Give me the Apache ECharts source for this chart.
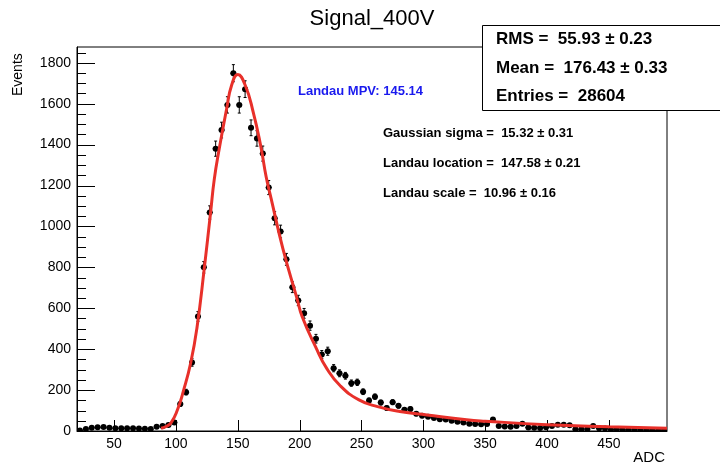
<!DOCTYPE html>
<html>
<head>
<meta charset="utf-8">
<script src="https://cdn.jsdelivr.net/npm/echarts@6/dist/echarts.min.js"></script>
<style>html,body{margin:0;padding:0;background:#fff;}#c{width:720px;height:469px;}</style>
</head>
<body>
<div id="c"></div>
<script>
// Histogram bin centers (ADC)
const binCenters = [22.4,27.2,31.9,36.7,41.5,46.2,51.0,55.8,60.5,65.3,
70.1,74.9,79.6,84.4,89.2,93.9,98.7,103.5,108.2,113.0,
117.8,122.5,127.3,132.1,136.9,141.6,146.4,151.2,155.9,160.7,
165.5,170.2,175.0,179.8,184.6,189.3,194.1,198.9,203.6,208.4,
213.2,217.9,222.7,227.5,232.2,237.0,241.8,246.6,251.3,256.1,
260.9,265.6,270.4,275.2,279.9,284.7,289.5,294.3,299.0,303.8,
308.6,313.3,318.1,322.9,327.6,332.4,337.2,341.9,346.7,351.5,
356.3,361.0,365.8,370.6,375.3,380.1,384.9,389.6,394.4,399.2,
404.0,408.7,413.5,418.3,423.0,427.8,432.6,437.3,442.1,446.9,
451.7,456.4,461.2,465.9,470.7,475.5,480.3,485.0,489.8,494.6];
// Events per bin
const counts = [3,10,16,18,19,16,13,13,13,13,
12,11,10,21,25,29,41,132,190,335,
560,800,1068,1380,1471,1594,1749,1594,1671,1482,
1430,1356,1190,1040,975,839,703,638,575,515,
451,374,390,307,282,270,234,238,192,149,
168,139,112,141,123,104,107,84,74,70,
64,57,56,50,45,42,35,34,33,34,
56,24,22,21,24,36,17,16,15,18,
25,30,30,28,9,8,10,24,13,12,
7,9,6,5,7,4,5,4,3,4];
const binHalfWidth = 2.385;
// Fit curve (Landau (x) Gauss)
const fitX = [88,92,96,101,106,112,117,123,128,131,135,141,145,150,156,162.5,168.5,173,177,186.5,198,202,213,222,233,248,263,281,303,335,350,400,450,497];
const fitY = [13,22,40,100,195,335,505,800,1068,1231,1380,1575,1690,1742,1690,1558,1394,1240,1135,890,645,560,410,305,220,152,119,95,78,55,48,31,21,14];
// Axis range and ticks
const xMin = 20, xMax = 497, yMin = 0, yMax = 1877;
const xTicks = [50,100,150,200,250,300,350,400,450];
const yTicks = [0,200,400,600,800,1000,1200,1400,1600,1800];
const yMinorTicks = [50,100,150,250,300,350,450,500,550,650,700,750,850,900,950,1050,1100,1150,1250,1300,1350,1450,1500,1550,1650,1700,1750,1850];

const chart = echarts.init(document.getElementById('c'), null, {renderer:'canvas'});
const FONT = '"Liberation Sans", Arial, Helvetica, sans-serif';

function renderPoint(params, api) {
  const x = api.value(0), y = api.value(1);
  const e = Math.sqrt(y);
  const c = api.coord([x, y]);
  const t = api.coord([x, y + e]);
  const b = api.coord([x, Math.max(y - e, 0)]);
  const l = api.coord([x - binHalfWidth, y]);
  const r = api.coord([x + binHalfWidth, y]);
  const st = {stroke:'#000', lineWidth:1};
  const cap = 1.5;
  return {type:'group', children:[
    {type:'line', shape:{x1:c[0],y1:t[1],x2:c[0],y2:b[1]}, style:st},
    {type:'line', shape:{x1:l[0],y1:c[1],x2:r[0],y2:c[1]}, style:st},
    {type:'line', shape:{x1:c[0]-cap,y1:t[1],x2:c[0]+cap,y2:t[1]}, style:st},
    {type:'line', shape:{x1:c[0]-cap,y1:b[1],x2:c[0]+cap,y2:b[1]}, style:st},
    {type:'circle', shape:{cx:c[0],cy:c[1],r:3}, style:{fill:'#000'}}
  ]};
}
// tick marks drawn through the axis scales: dim 2 = kind (0: x tick, 1: y major, 2: y minor)
function renderTick(params, api) {
  const kind = api.value(2);
  const p = api.coord([api.value(0), api.value(1)]);
  const st = {stroke:'#000', lineWidth:1};
  let shape;
  if (kind === 0) shape = {x1:Math.round(p[0])+0.5, y1:p[1], x2:Math.round(p[0])+0.5, y2:p[1]-11};
  else {
    const len = kind === 1 ? 18 : 9;
    shape = {x1:p[0], y1:Math.round(p[1])+0.5, x2:p[0]+len, y2:Math.round(p[1])+0.5};
  }
  return {type:'line', shape:shape, style:st};
}
const tickData = [].concat(
  xTicks.map(v => [v, yMin, 0]),
  yTicks.map(v => [xMin, v, 1]),
  yMinorTicks.map(v => [xMin, v, 2])
);

const plain = v => String(v);

const option = {
  animation:false,
  backgroundColor:'#fff',
  grid:{left:77, right:53, top:47, bottom:38, show:true, borderColor:'#000', borderWidth:1, outerBoundsMode:'none'},
  xAxis:{type:'value', min:xMin, max:xMax,
    axisLine:{show:true, onZero:false, lineStyle:{color:'#000', width:1}},
    axisTick:{show:false},
    axisLabel:{show:true, customValues:xTicks, formatter:plain, color:'#000', fontSize:14, fontFamily:FONT, margin:6},
    splitLine:{show:false}},
  yAxis:{type:'value', min:yMin, max:yMax,
    axisLine:{show:true, onZero:false, lineStyle:{color:'#000', width:1}},
    axisTick:{show:false},
    axisLabel:{show:true, customValues:yTicks, formatter:plain, color:'#000', fontSize:14, fontFamily:FONT, margin:6},
    splitLine:{show:false}},
  series:[
    {type:'custom', renderItem:renderTick, clip:false, z:1, silent:true,
      encode:{x:0, y:1}, data: tickData},
    {type:'custom', renderItem:renderPoint, clip:true, z:2,
      encode:{x:0, y:1},
      data: binCenters.map((x,i)=>[x, counts[i]])},
    {type:'line', z:3, smooth:0.5, showSymbol:false, symbol:'none', clip:true,
      lineStyle:{color:'#e8302a', width:3},
      data: fitX.map((x,i)=>[x, fitY[i]])}
  ],
  graphic:[
    {type:'text', x:372, y:19, style:{text:'Signal_400V', font:'22px '+FONT, fill:'#000', align:'center', verticalAlign:'middle'}},
    {type:'text', x:18, y:96, rotation:Math.PI/2, style:{text:'Events', font:'14px '+FONT, fill:'#000', align:'left', verticalAlign:'middle'}},
    {type:'text', x:665, y:458, style:{text:'ADC', font:'15px '+FONT, fill:'#000', align:'right', verticalAlign:'middle'}},
    {type:'text', x:298, y:91, style:{text:'Landau MPV: 145.14', font:'bold 13px '+FONT, fill:'#1a1aee', align:'left', verticalAlign:'middle'}},
    {type:'text', x:383, y:133, style:{text:'Gaussian sigma =  15.32 \u00b1 0.31', font:'bold 13px '+FONT, fill:'#000', align:'left', verticalAlign:'middle'}},
    {type:'text', x:383, y:163, style:{text:'Landau location =  147.58 \u00b1 0.21', font:'bold 13px '+FONT, fill:'#000', align:'left', verticalAlign:'middle'}},
    {type:'text', x:383, y:193, style:{text:'Landau scale =  10.96 \u00b1 0.16', font:'bold 13px '+FONT, fill:'#000', align:'left', verticalAlign:'middle'}},
    {type:'rect', z:10, shape:{x:482.5, y:25.5, width:260, height:85}, style:{fill:'#fff', stroke:'#000', lineWidth:1}},
    {type:'text', z:11, x:496, y:39, style:{text:'RMS =  55.93 \u00b1 0.23', font:'bold 17px '+FONT, fill:'#000', align:'left', verticalAlign:'middle'}},
    {type:'text', z:11, x:496, y:68, style:{text:'Mean =  176.43 \u00b1 0.33', font:'bold 17px '+FONT, fill:'#000', align:'left', verticalAlign:'middle'}},
    {type:'text', z:11, x:496, y:96, style:{text:'Entries =  28604', font:'bold 17px '+FONT, fill:'#000', align:'left', verticalAlign:'middle'}}
  ]
};
chart.setOption(option);
</script>
</body>
</html>
